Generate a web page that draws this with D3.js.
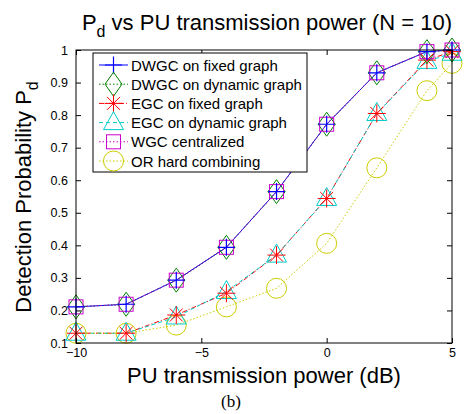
<!DOCTYPE html>
<html><head><meta charset="utf-8">
<script src="https://cdn.jsdelivr.net/npm/d3@7"></script>
<style>body{margin:0;background:#fff}svg{display:block}</style>
</head><body>
<svg id="c" width="465" height="414"></svg>
<script>
const xVals = [-10, -8, -6, -4, -2, 0, 2, 4, 5];
const dwgcFixed   = [0.211, 0.219, 0.293, 0.394, 0.565, 0.772, 0.930, 0.995, 1.0];
const dwgcDynamic = [0.211, 0.219, 0.293, 0.394, 0.565, 0.772, 0.930, 0.995, 1.0];
const egcFixed    = [0.130, 0.130, 0.186, 0.253, 0.370, 0.544, 0.805, 0.969, 0.995];
const egcDynamic  = [0.130, 0.130, 0.180, 0.258, 0.370, 0.544, 0.805, 0.965, 0.990];
const wgcCentral  = [0.211, 0.219, 0.293, 0.394, 0.565, 0.772, 0.930, 0.995, 1.0];
const orHard      = [0.130, 0.130, 0.155, 0.211, 0.268, 0.406, 0.638, 0.875, 0.959];
const seriesNames = ["DWGC on fixed graph","DWGC on dynamic graph","EGC on fixed graph","EGC on dynamic graph","WGC centralized","OR hard combining"];
const xTicks = [-10, -5, 0, 5];
const yTicks = [0.1,0.2,0.3,0.4,0.5,0.6,0.7,0.8,0.9,1];

const series = [
  {name: seriesNames[0], v: dwgcFixed,   color:"#0000ff", dash:null,      marker:"plus"},
  {name: seriesNames[1], v: dwgcDynamic, color:"#008000", dash:"1.5,2",   marker:"diamond"},
  {name: seriesNames[2], v: egcFixed,    color:"#ff0000", dash:"5,2,1,2", marker:"star"},
  {name: seriesNames[3], v: egcDynamic,  color:"#00cccc", dash:"4,3",     marker:"triangle"},
  {name: seriesNames[4], v: wgcCentral,  color:"#cc00cc", dash:"1.5,2",   marker:"square"},
  {name: seriesNames[5], v: orHard,      color:"#cccc00", dash:"1.5,2",   marker:"circle"}
];

const svg = d3.select("#c");
const L=76, R=452, T=50, B=343;
const x = d3.scaleLinear().domain([-10,5]).range([L,R]);
const y = d3.scaleLinear().domain([0.1,1]).range([B,T]);
const font = "'Liberation Sans', Arial, sans-serif";

const line = d3.line().x((d,i)=>x(xVals[i])).y(d=>y(d));
const g = svg.append("g");
series.forEach(s=>{
  g.append("path").attr("d", line(s.v)).attr("fill","none")
   .attr("stroke", s.color).attr("stroke-width",1)
   .attr("stroke-dasharray", s.dash);
});

function drawMarker(sel, type, cx, cy, color){
  if(type==="plus"){
    const r=8.5;
    sel.append("path").attr("d",`M${cx-r},${cy}H${cx+r}M${cx},${cy-r}V${cy+r}`).attr("stroke",color).attr("stroke-width",1.2);
  } else if(type==="diamond"){
    sel.append("path").attr("d",`M${cx},${cy-12}L${cx+8.5},${cy}L${cx},${cy+12}L${cx-8.5},${cy}Z`).attr("fill","none").attr("stroke",color).attr("stroke-width",1);
  } else if(type==="star"){
    const rr=9;
    let d=`M${cx-rr},${cy}H${cx+rr}M${cx},${cy-rr}V${cy+rr}`;
    const k=rr*0.72;
    d+=`M${cx-k},${cy-k}L${cx+k},${cy+k}M${cx-k},${cy+k}L${cx+k},${cy-k}`;
    sel.append("path").attr("d",d).attr("stroke",color).attr("stroke-width",1);
  } else if(type==="triangle"){
    sel.append("path").attr("d",`M${cx},${cy-11}L${cx+10},${cy+7}L${cx-10},${cy+7}Z`).attr("fill","none").attr("stroke",color).attr("stroke-width",1);
  } else if(type==="square"){
    sel.append("rect").attr("x",cx-7).attr("y",cy-7).attr("width",14).attr("height",14).attr("fill","none").attr("stroke",color).attr("stroke-width",1);
  } else if(type==="circle"){
    sel.append("circle").attr("cx",cx).attr("cy",cy).attr("r",10).attr("fill","none").attr("stroke",color).attr("stroke-width",1);
  }
}
const drawOrder = [5,3,2,1,4,0];
drawOrder.forEach(i=>{
  const s = series[i];
  s.v.forEach((v,j)=> drawMarker(g, s.marker, x(xVals[j]), y(v), s.color));
});

svg.append("rect").attr("x",L).attr("y",T).attr("width",R-L).attr("height",B-T).attr("fill","none").attr("stroke","#000").attr("stroke-width",1);

const xAxis = d3.axisBottom(x).tickValues(xTicks).tickSizeInner(-5).tickSizeOuter(0).tickPadding(5)
  .tickFormat(d=> d<0 ? "\u2212"+Math.abs(d) : d);
const xa = svg.append("g").attr("transform",`translate(0,${B})`).call(xAxis);
xa.select(".domain").remove();
xa.selectAll("text").attr("font-family",font).attr("font-size",12.5).attr("fill","#000");
const xTop = svg.append("g").attr("transform",`translate(0,${T})`).call(d3.axisTop(x).tickValues(xTicks).tickSizeInner(-5).tickSizeOuter(0).tickFormat(""));
xTop.select(".domain").remove();

const yAxis = d3.axisLeft(y).tickValues(yTicks).tickSizeInner(-5).tickSizeOuter(0).tickPadding(8)
  .tickFormat(d=> d===1 ? "1" : d3.format(".1f")(d));
const ya = svg.append("g").attr("transform",`translate(${L},0)`).call(yAxis);
ya.select(".domain").remove();
ya.selectAll("text").attr("font-family",font).attr("font-size",12.5).attr("fill","#000");
const yR = svg.append("g").attr("transform",`translate(${R},0)`).call(d3.axisRight(y).tickValues(yTicks).tickSizeInner(-5).tickSizeOuter(0).tickFormat(""));
yR.select(".domain").remove();

// legend
const lg = svg.append("g");
lg.append("rect").attr("x",93).attr("y",53).attr("width",214).attr("height",119).attr("fill","#fff").attr("stroke","#000").attr("stroke-width",1);
series.forEach((s,i)=>{
  const yy = 65 + i*19.2;
  lg.append("line").attr("x1",99).attr("x2",128).attr("y1",yy).attr("y2",yy).attr("stroke",s.color).attr("stroke-dasharray",s.dash);
  drawMarker(lg, s.marker, 113.5, yy, s.color);
  lg.append("text").attr("x",131).attr("y",yy+5.5).attr("font-family",font).attr("font-size",15).text(s.name);
});

// title
const t = svg.append("text").attr("x",267).attr("y",30).attr("text-anchor","middle").attr("font-family",font).attr("font-size",22);
t.append("tspan").text("P");
t.append("tspan").attr("font-size",16).attr("dy",7).text("d");
t.append("tspan").attr("dy",-7).text(" vs PU transmission power (N = 10)");

// y label
const yl = svg.append("text").attr("transform","translate(31,197) rotate(-90)").attr("text-anchor","middle").attr("font-family",font).attr("font-size",22);
yl.append("tspan").text("Detection Probability P");
yl.append("tspan").attr("font-size",16).attr("dy",7).text("d");

// x label
svg.append("text").attr("x",264).attr("y",383).attr("text-anchor","middle").attr("font-family",font).attr("font-size",22).text("PU transmission power (dB)");
svg.append("text").attr("x",231).attr("y",407).attr("text-anchor","middle").attr("font-family","'Liberation Serif', 'Times New Roman', serif").attr("font-size",17).text("(b)");
</script>
</body></html>
